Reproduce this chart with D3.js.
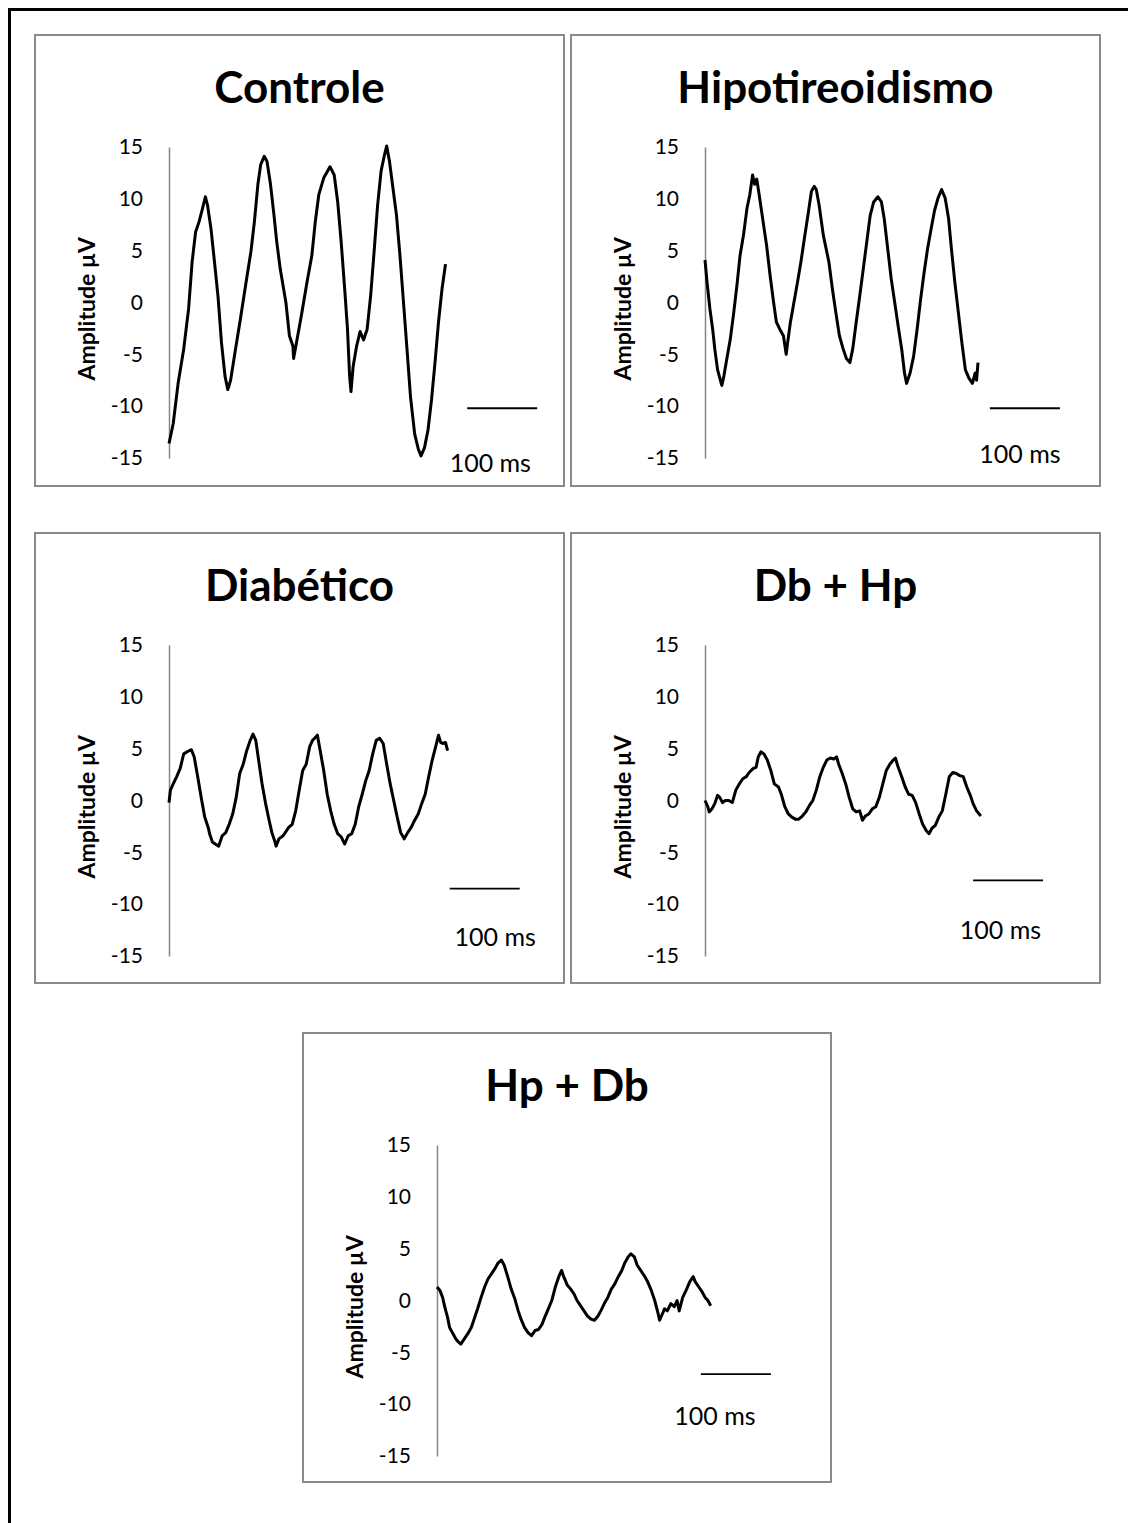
<!DOCTYPE html>
<html>
<head>
<meta charset="utf-8">
<script src="https://cdn.jsdelivr.net/npm/d3@7"></script>
<style>
  html, body { margin: 0; padding: 0; background: #fff; }
  svg { display: block; }
</style>
</head>
<body>
<svg id="fig" width="1128" height="1523"></svg>
<script>
// Recorded traces: [time in ms, amplitude in µV]
const controle = [
  [0,-13.6],[6,-11.7],[13,-7.8],[21,-4.5],[28,-0.6],[33,3.9],[38,6.8],[43,7.8],[48,9.1],[52,10.2],
  [55,9.4],[60,7.1],[65,3.9],[70,0.6],[75,-3.9],[80,-7.1],[84,-8.4],[88,-7.5],[95,-4.5],[102,-1.6],
  [110,1.9],[117,4.9],[122,7.8],[127,11.4],[131,13.3],[136,14.1],[140,13.6],[145,11.4],[150,8.4],[154,5.8],
  [159,3.2],[167,0],[172,-3.2],[177,-4.2],[178,-5.4],[182,-3.9],[189,-1.3],[197,1.9],[204,4.5],[209,7.8],
  [214,10.4],[221,12.0],[230,13.1],[236,12.3],[241,9.7],[246,5.8],[251,1.3],[255,-2.6],[258,-7.1],[260,-8.6],
  [263,-6.2],[268,-4.2],[273,-2.8],[278,-3.6],[283,-2.6],[288,0.6],[293,4.9],[298,9.4],[303,12.7],[308,14.3],
  [311,15.1],[315,13.6],[320,11.0],[325,8.4],[330,4.5],[335,0],[340,-4.5],[345,-9.1],[351,-12.7],[356,-14.1],
  [360,-14.8],[365,-14.0],[370,-12.3],[375,-9.4],[380,-5.8],[385,-1.9],[390,1.3],[395,3.7]
];

const hipotireoidismo = [
  [0,4.1],[3,1.9],[7,-0.6],[11,-2.6],[14,-4.5],[18,-6.5],[22,-7.5],[24,-8.0],[27,-7.1],[31,-5.5],
  [36,-3.6],[41,-1.0],[46,1.9],[50,4.5],[55,6.5],[60,9.1],[64,10.4],[68,12.3],[71,11.4],[74,11.9],
  [78,10.1],[83,7.8],[88,5.5],[93,2.6],[98,0],[102,-1.9],[107,-2.6],[112,-3.2],[116,-5.0],[118,-3.9],
  [122,-1.9],[127,0],[132,1.9],[137,3.9],[142,6.2],[147,8.4],[152,10.7],[156,11.2],[159,10.9],[163,9.4],
  [169,6.5],[177,3.9],[182,1.3],[187,-1.0],[192,-3.2],[197,-4.4],[202,-5.4],[207,-5.8],[211,-4.5],[216,-1.9],
  [221,0.6],[226,3.2],[231,5.8],[236,8.4],[241,9.7],[247,10.2],[252,9.7],[256,8.1],[261,5.2],[266,2.3],
  [271,0],[276,-2.3],[281,-4.5],[285,-6.8],[288,-7.8],[293,-6.8],[298,-5.2],[303,-2.6],[308,0.3],[313,2.9],
  [318,5.2],[323,7.1],[328,8.9],[333,10.1],[338,10.9],[343,10.1],[348,8.1],[352,5.2],[357,1.9],[362,-1.0],
  [367,-3.9],[372,-6.5],[377,-7.3],[382,-7.8],[386,-6.8],[388,-7.5],[390,-5.8]
];

const diabetico = [
  [0,-0.2],[2,1.0],[6,1.6],[11,2.3],[16,3.1],[21,4.5],[26,4.7],[32,4.9],[36,4.2],[41,2.3],
  [46,0.3],[51,-1.6],[56,-2.6],[58,-3.2],[62,-4.0],[66,-4.2],[71,-4.4],[76,-3.4],[81,-3.1],[86,-2.3],
  [91,-1.3],[96,0.3],[101,2.6],[106,3.5],[111,4.8],[116,5.8],[120,6.4],[124,5.8],[128,3.9],[133,1.6],
  [138,-0.3],[143,-1.9],[147,-3.1],[151,-3.9],[153,-4.4],[157,-3.7],[163,-3.4],[171,-2.6],[176,-2.3],[181,-1.0],
  [186,1.0],[191,2.9],[196,3.5],[201,5.2],[205,5.8],[208,6.0],[212,6.3],[216,4.8],[221,2.9],[226,0.6],
  [231,-1.0],[236,-2.3],[241,-3.2],[246,-3.5],[251,-4.2],[256,-3.4],[261,-3.2],[266,-2.3],[271,-0.6],[276,0.6],
  [281,1.9],[286,2.9],[291,4.5],[296,5.8],[301,6.0],[306,5.5],[311,3.5],[316,1.6],[321,0],[326,-1.6],
  [331,-3.1],[336,-3.7],[341,-3.1],[346,-2.6],[351,-1.9],[356,-1.3],[361,-0.3],[366,0.6],[371,2.3],[376,3.9],
  [381,5.2],[385,6.3],[388,5.6],[391,5.5],[395,5.6],[398,4.8]
];

const dbHp = [
  [0,0],[4,-0.6],[6,-1.1],[10,-0.8],[14,-0.3],[18,0.5],[21,0.3],[25,-0.2],[29,0],[34,0],
  [39,-0.2],[44,1.0],[49,1.6],[54,2.1],[59,2.3],[63,2.7],[69,3.1],[73,3.2],[76,4.2],[80,4.7],
  [84,4.5],[89,3.9],[94,2.9],[99,1.6],[105,1.3],[109,0.6],[114,-0.6],[119,-1.3],[124,-1.6],[129,-1.8],
  [134,-1.8],[139,-1.5],[144,-1.1],[149,-0.5],[154,0],[159,1.0],[164,2.3],[169,3.2],[174,3.9],[179,4.1],
  [184,4.0],[188,4.2],[191,3.5],[196,2.6],[201,1.6],[206,0.3],[211,-0.8],[216,-1.1],[221,-1.0],[225,-1.9],
  [229,-1.5],[234,-1.3],[239,-0.8],[244,-0.6],[249,0.3],[254,1.6],[259,2.9],[264,3.5],[269,3.9],[272,4.1],
  [276,3.2],[281,2.3],[286,1.3],[291,0.6],[296,0.5],[301,-0.2],[306,-1.3],[311,-2.3],[316,-2.9],[320,-3.2],
  [324,-2.7],[329,-2.4],[334,-1.6],[339,-1.0],[344,0.6],[349,2.3],[354,2.7],[359,2.6],[364,2.4],[369,2.3],
  [374,1.3],[379,0.5],[383,-0.3],[388,-1.0],[394,-1.5]
];

const hpDb = [
  [0,1.3],[4,1.0],[8,0.3],[11,-0.6],[15,-1.6],[18,-2.6],[22,-3.1],[26,-3.6],[29,-3.9],[34,-4.2],
  [39,-3.7],[44,-3.2],[49,-2.6],[53,-1.8],[58,-0.8],[63,0.3],[68,1.3],[73,2.1],[78,2.6],[83,3.1],
  [87,3.6],[92,3.9],[96,3.4],[101,2.3],[106,1.1],[111,0.2],[116,-1.0],[120,-1.8],[125,-2.6],[130,-3.1],
  [135,-3.4],[140,-2.9],[145,-2.8],[150,-2.3],[154,-1.6],[159,-0.8],[164,0],[169,1.3],[174,2.3],[178,2.9],
  [181,2.3],[186,1.5],[191,1.1],[196,0.6],[200,0],[205,-0.5],[210,-1.0],[215,-1.5],[220,-1.8],[225,-1.9],
  [230,-1.5],[234,-1.0],[239,-0.3],[244,0.3],[249,1.1],[254,1.6],[259,2.3],[264,2.9],[268,3.6],[273,4.2],
  [277,4.5],[282,4.2],[286,3.4],[291,2.9],[296,2.4],[301,1.8],[306,1.0],[311,0],[316,-1.3],[318,-1.9],
  [322,-1.3],[325,-0.8],[329,-1.0],[334,-0.3],[339,-0.6],[343,0],[346,-1.0],[351,0.3],[356,1.0],[361,1.8],
  [366,2.3],[369,1.8],[374,1.3],[379,0.8],[383,0.3],[387,0],[391,-0.5]
];

const groupTitles = ["Controle", "Hipotireoidismo", "Diabético", "Db + Hp", "Hp + Db"];
const yTickValues = [15, 10, 5, 0, -5, -10, -15];
const yAxisTitle = "Amplitude µV";
const scaleBarMs = 100;
const scaleBarLabel = "100 ms";

const traces = [controle, hipotireoidismo, diabetico, dbHp, hpDb];

// Panel frames and where each time scale bar sits (in ms / µV of its own panel)
const layout = [
  { x: 35,  y: 35,   w: 529, h: 451, bar: [426, -10.2], label: [459, -15.5] },
  { x: 571, y: 35,   w: 529, h: 451, bar: [407, -10.2], label: [450, -14.6] },
  { x: 35,  y: 533,  w: 529, h: 450, bar: [401, -8.5],  label: [466, -13.2] },
  { x: 571, y: 533,  w: 529, h: 450, bar: [383, -7.7],  label: [422, -12.5] },
  { x: 303, y: 1033, w: 528, h: 449, bar: [377, -7.1],  label: [397, -11.2] }
];

const svg = d3.select("#fig");
const font = "Lato, 'Open Sans', sans-serif";

// outer figure frame
svg.append("rect")
  .attr("x", 9.5).attr("y", 9.5)
  .attr("width", 1140).attr("height", 1540)
  .attr("fill", "none").attr("stroke", "#000").attr("stroke-width", 3);

layout.forEach((p, i) => {
  const g = svg.append("g").attr("transform", `translate(${p.x},${p.y})`);

  g.append("rect")
    .attr("x", 0).attr("y", 0).attr("width", p.w).attr("height", p.h)
    .attr("fill", "#fff").attr("stroke", "#8a8a8a").attr("stroke-width", 2);

  const axisX = 134;
  const x = d3.scaleLinear().domain([0, 500]).range([axisX, axisX + 350]);
  const y = d3.scaleLinear().domain([-15, 15]).range([423, 112]);

  // title
  g.append("text")
    .attr("x", p.w / 2).attr("y", 68)
    .attr("text-anchor", "middle")
    .attr("font-family", font).attr("font-weight", 700).attr("font-size", 44)
    .attr("fill", "#000")
    .text(groupTitles[i]);

  // vertical axis: line plus labels, no tick marks
  const axis = d3.axisLeft(y).tickValues(yTickValues).tickSize(0).tickPadding(26)
    .tickFormat(d3.format("d"));
  const ag = g.append("g").attr("transform", `translate(${axisX},0)`).call(axis);
  ag.select(".domain").attr("stroke", "#868686").attr("stroke-width", 1.5);
  ag.selectAll("text")
    .attr("font-family", font).attr("font-size", 21).attr("fill", "#000")
    .text(d => d < 0 ? "-" + Math.abs(d) : d);

  // axis title
  g.append("text")
    .attr("transform", `translate(52,${y(-0.6)}) rotate(-90)`)
    .attr("text-anchor", "middle").attr("dy", "0.35em")
    .attr("font-family", font).attr("font-weight", 700).attr("font-size", 23)
    .attr("fill", "#000")
    .text(yAxisTitle);

  // trace
  const line = d3.line().x(d => x(d[0])).y(d => y(d[1]));
  g.append("path")
    .datum(traces[i])
    .attr("d", line)
    .attr("fill", "none").attr("stroke", "#000")
    .attr("stroke-width", 3).attr("stroke-linejoin", "round");

  // time scale bar
  g.append("line")
    .attr("x1", x(p.bar[0])).attr("x2", x(p.bar[0] + scaleBarMs))
    .attr("y1", y(p.bar[1])).attr("y2", y(p.bar[1]))
    .attr("stroke", "#000").attr("stroke-width", 1.8);
  g.append("text")
    .attr("x", x(p.label[0])).attr("y", y(p.label[1]))
    .attr("text-anchor", "middle").attr("dy", "0.35em")
    .attr("font-family", font).attr("font-size", 25).attr("fill", "#000")
    .text(scaleBarLabel);
});
</script>
</body>
</html>
